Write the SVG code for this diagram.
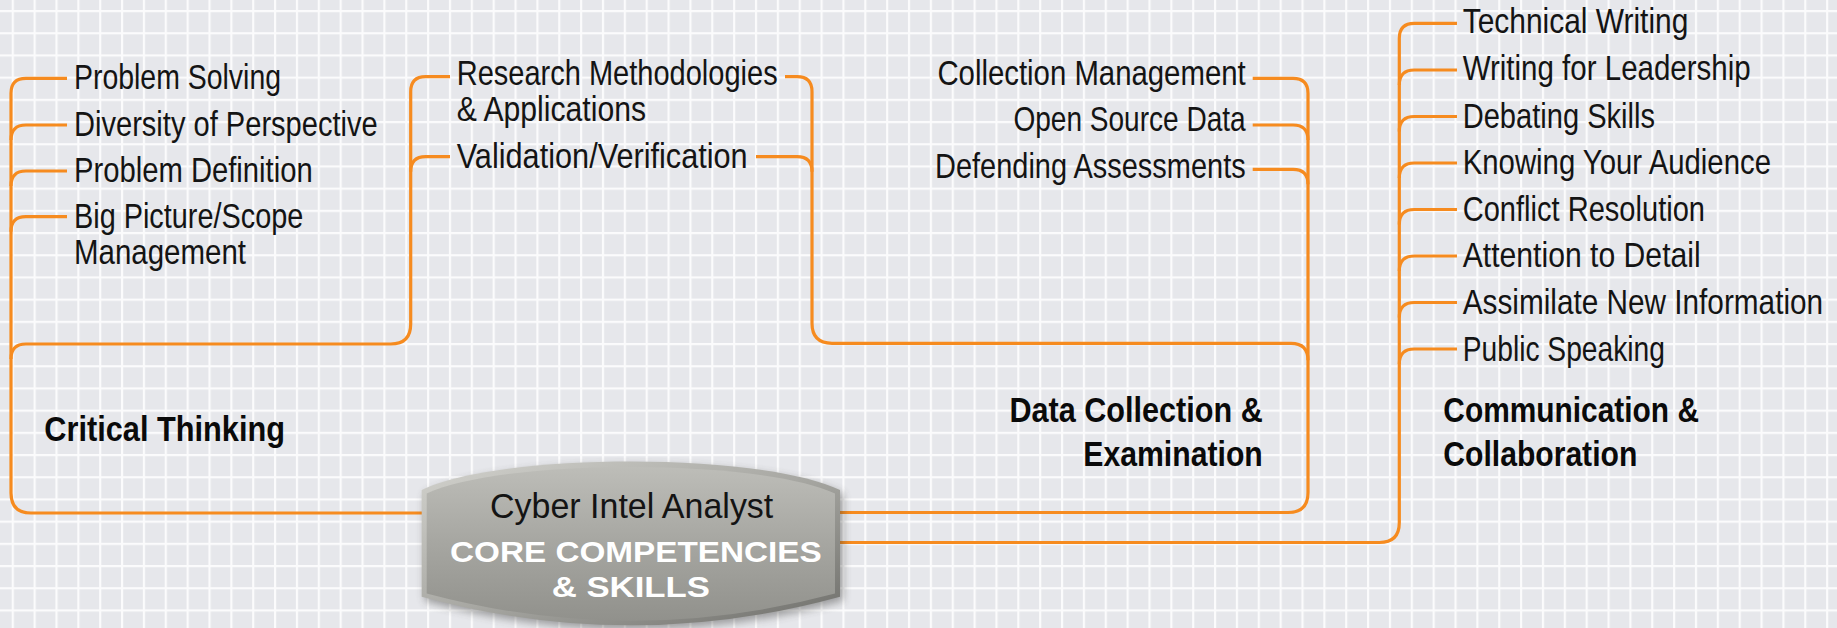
<svg xmlns="http://www.w3.org/2000/svg" width="1837" height="628" viewBox="0 0 1837 628">
<style>
.item{font-family:"Liberation Sans Narrow","Liberation Sans",Arial,sans-serif;font-size:35px;fill:#141414;}
.label{font-family:"Liberation Sans Narrow","Liberation Sans",Arial,sans-serif;font-size:35px;font-weight:bold;fill:#0a0a0a;}
.core{font-family:"Liberation Sans",Arial,sans-serif;font-size:30px;font-weight:bold;fill:#ffffff;}
.conn{fill:none;stroke:#f68b1f;stroke-width:3.2;stroke-linecap:butt;stroke-linejoin:round;}
</style>
<defs>
<pattern id="grid" patternUnits="userSpaceOnUse" x="11.7" y="10" width="21.86" height="22.2">
<rect x="0" y="0" width="21.86" height="22.2" fill="#e6e7eb"/>
<rect x="0" y="0" width="2.2" height="22.2" fill="#fbfbfc"/>
<rect x="0" y="0" width="21.86" height="2.2" fill="#fbfbfc"/>
</pattern>
<linearGradient id="bevel" x1="0" y1="0" x2="1" y2="1">
<stop offset="0" stop-color="#d2d2cd"/>
<stop offset="0.5" stop-color="#a8a8a3"/>
<stop offset="1" stop-color="#6e6e6a"/>
</linearGradient>
<linearGradient id="face" x1="0" y1="0" x2="0" y2="1">
<stop offset="0" stop-color="#bdbdb8"/>
<stop offset="0.5" stop-color="#a6a6a1"/>
<stop offset="1" stop-color="#91918c"/>
</linearGradient>
<filter id="shadow" x="-10%" y="-20%" width="120%" height="140%">
<feGaussianBlur stdDeviation="4"/>
</filter>
</defs>
<rect x="0" y="0" width="1837" height="628" fill="url(#grid)"/>

<g id="connectors">
<path class="conn" d="M67,78.3 H26 Q11,78.3 11,93.3 V493 Q11,513 31,513 H424"/>
<path class="conn" d="M67,125 H26 Q11,125 11,140"/>
<path class="conn" d="M67,171 H26 Q11,171 11,186"/>
<path class="conn" d="M67,216.7 H26 Q11,216.7 11,231.7"/>
<path class="conn" d="M11,359 Q11,344 26,344 H390.7 Q410.7,344 410.7,324 V91.7 Q410.7,76.7 425.7,76.7 H450"/>
<path class="conn" d="M450,156.7 H425.7 Q410.7,156.7 410.7,171.7"/>
<path class="conn" d="M785,76.7 H797 Q812,76.7 812,91.7 V323.3 Q812,343.3 832,343.3 H1291 Q1308,343.3 1308,360.3"/>
<path class="conn" d="M756,156.7 H797 Q812,156.7 812,171.7"/>
<path class="conn" d="M1252.7,78.3 H1293 Q1308,78.3 1308,93.3 V492.5 Q1308,512.5 1288,512.5 H838"/>
<path class="conn" d="M1252.7,125 H1293 Q1308,125 1308,140"/>
<path class="conn" d="M1252.7,169.3 H1293 Q1308,169.3 1308,184.3"/>
<path class="conn" d="M1457,23.3 H1414.3 Q1399.3,23.3 1399.3,38.3 V522.5 Q1399.3,542.5 1379.3,542.5 H838"/>
<path class="conn" d="M1457,70 H1414.3 Q1399.3,70 1399.3,85"/>
<path class="conn" d="M1457,116.5 H1414.3 Q1399.3,116.5 1399.3,131.5"/>
<path class="conn" d="M1457,163 H1414.3 Q1399.3,163 1399.3,178"/>
<path class="conn" d="M1457,209.5 H1414.3 Q1399.3,209.5 1399.3,224.5"/>
<path class="conn" d="M1457,256 H1414.3 Q1399.3,256 1399.3,271"/>
<path class="conn" d="M1457,302.5 H1414.3 Q1399.3,302.5 1399.3,317.5"/>
<path class="conn" d="M1457,349 H1414.3 Q1399.3,349 1399.3,364"/>
</g>

<g id="node-core">
<path d="M424.7,494 C503,456 765,456 843,494 L843,600.7 Q634,658 424.7,600.7 Z" fill="#3a3a38" opacity="0.45" filter="url(#shadow)"/>
<path d="M421.7,490 C500,452 762,452 840,490 L840,596.7 Q631,654 421.7,596.7 Z" fill="url(#bevel)"/>
<path d="M426.7,493.5 C504,458 758,458 835,493.5 L835,593.5 Q631,648 426.7,593.5 Z" fill="url(#face)"/>
<text class="item" x="490" y="518.3" textLength="283.3" lengthAdjust="spacingAndGlyphs" fill="#111">Cyber Intel Analyst</text>
<text class="core" x="450" y="561.7" textLength="371.7" lengthAdjust="spacingAndGlyphs">CORE COMPETENCIES</text>
<text class="core" x="551.7" y="596.7" textLength="158.3" lengthAdjust="spacingAndGlyphs">&amp; SKILLS</text>
</g>

<g id="group-critical-thinking">
<text class="label" x="44.3" y="441" textLength="240.7" lengthAdjust="spacingAndGlyphs">Critical Thinking</text>
</g>
<g id="node-problem-solving"><text class="item" x="74" y="89.3" textLength="207" lengthAdjust="spacingAndGlyphs">Problem Solving</text></g>
<g id="node-diversity"><text class="item" x="74" y="135.5" textLength="303.7" lengthAdjust="spacingAndGlyphs">Diversity of Perspective</text></g>
<g id="node-problem-definition"><text class="item" x="74" y="182.3" textLength="238.7" lengthAdjust="spacingAndGlyphs">Problem Definition</text></g>
<g id="node-big-picture">
<text class="item" x="74" y="228.3" textLength="229.3" lengthAdjust="spacingAndGlyphs">Big Picture/Scope</text>
<text class="item" x="74" y="264" textLength="172" lengthAdjust="spacingAndGlyphs">Management</text>
</g>
<g id="node-research">
<text class="item" x="456.7" y="85" textLength="321" lengthAdjust="spacingAndGlyphs">Research Methodologies</text>
<text class="item" x="456.7" y="121" textLength="189.3" lengthAdjust="spacingAndGlyphs">&amp; Applications</text>
</g>
<g id="node-validation"><text class="item" x="456.7" y="167.7" textLength="291" lengthAdjust="spacingAndGlyphs">Validation/Verification</text></g>

<g id="group-data-collection">
<text class="label" x="1009.4" y="421.7" textLength="253.4" lengthAdjust="spacingAndGlyphs">Data Collection &amp;</text>
<text class="label" x="1083.3" y="465.7" textLength="179.5" lengthAdjust="spacingAndGlyphs">Examination</text>
</g>
<g id="node-collection-management"><text class="item" x="937.4" y="85" textLength="308.3" lengthAdjust="spacingAndGlyphs">Collection Management</text></g>
<g id="node-open-source"><text class="item" x="1013.4" y="130.7" textLength="232.3" lengthAdjust="spacingAndGlyphs">Open Source Data</text></g>
<g id="node-defending"><text class="item" x="935" y="177.7" textLength="310.7" lengthAdjust="spacingAndGlyphs">Defending Assessments</text></g>

<g id="group-communication">
<text class="label" x="1443.3" y="422.3" textLength="255.7" lengthAdjust="spacingAndGlyphs">Communication &amp;</text>
<text class="label" x="1443.3" y="466" textLength="194" lengthAdjust="spacingAndGlyphs">Collaboration</text>
</g>
<g id="node-technical-writing"><text class="item" x="1462.7" y="33.3" textLength="225.7" lengthAdjust="spacingAndGlyphs">Technical Writing</text></g>
<g id="node-writing-leadership"><text class="item" x="1462.7" y="80" textLength="288" lengthAdjust="spacingAndGlyphs">Writing for Leadership</text></g>
<g id="node-debating"><text class="item" x="1462.7" y="127.7" textLength="192.3" lengthAdjust="spacingAndGlyphs">Debating Skills</text></g>
<g id="node-audience"><text class="item" x="1462.7" y="174" textLength="308.3" lengthAdjust="spacingAndGlyphs">Knowing Your Audience</text></g>
<g id="node-conflict"><text class="item" x="1462.7" y="220.7" textLength="242.3" lengthAdjust="spacingAndGlyphs">Conflict Resolution</text></g>
<g id="node-attention"><text class="item" x="1462.7" y="267.3" textLength="238" lengthAdjust="spacingAndGlyphs">Attention to Detail</text></g>
<g id="node-assimilate"><text class="item" transform="translate(1462.7,314) scale(0.85,1)" x="0" y="0" textLength="424" lengthAdjust="spacingAndGlyphs">Assimilate New Information</text></g>
<g id="node-public-speaking"><text class="item" x="1462.7" y="360.7" textLength="202.3" lengthAdjust="spacingAndGlyphs">Public Speaking</text></g>
</svg>
